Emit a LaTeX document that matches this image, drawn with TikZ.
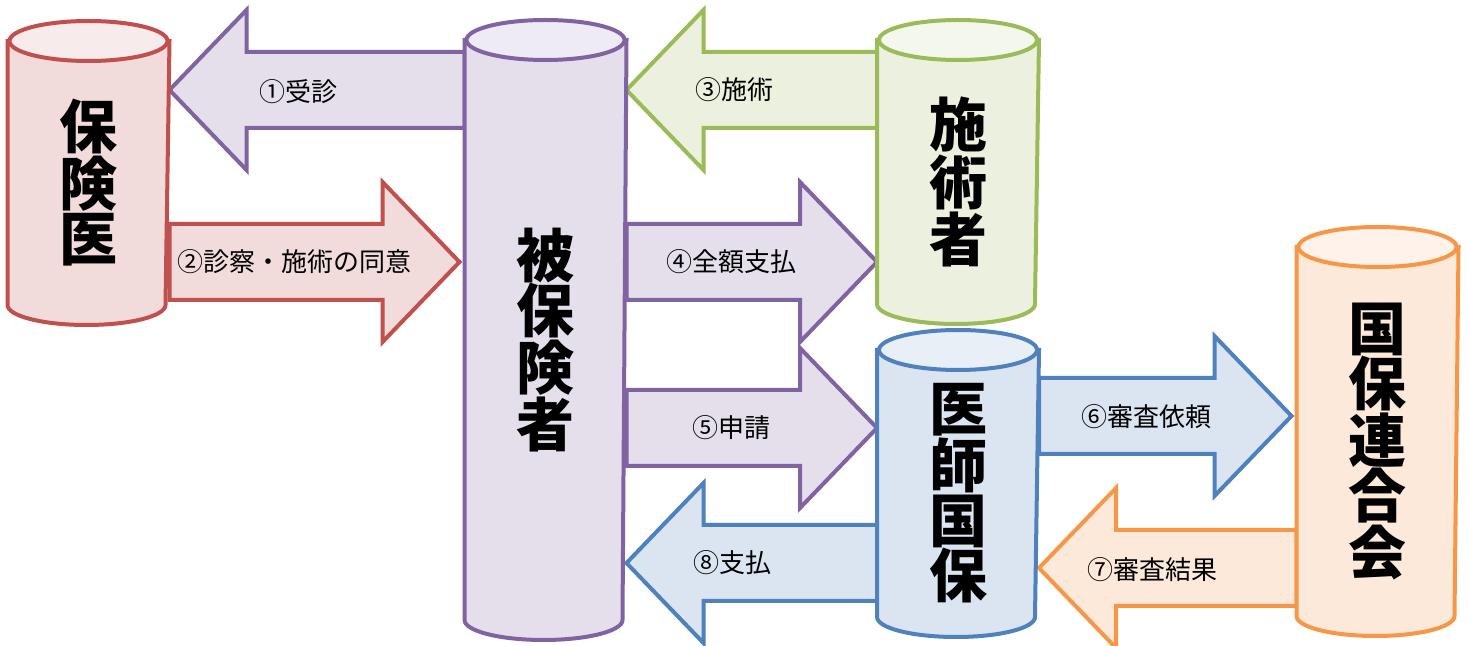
\documentclass[tikz,border=0pt]{standalone}
\usepackage{fontspec}
\newfontfamily\jp{Noto Sans CJK JP}
\usetikzlibrary{calc}

\definecolor{lilacline}{HTML}{8064A2}
\definecolor{lilacfill}{HTML}{E5DFEC}
\definecolor{lilactop}{HTML}{EFEBF4}
\definecolor{roseline}{HTML}{C0504D}
\definecolor{rosefill}{HTML}{F2DCDB}
\definecolor{rosetop}{HTML}{F8EBEB}
\definecolor{leafline}{HTML}{9BBB59}
\definecolor{leaffill}{HTML}{EBF1DE}
\definecolor{leaftop}{HTML}{F3F7EC}
\definecolor{skyline}{HTML}{4F81BD}
\definecolor{skyfill}{HTML}{DBE5F1}
\definecolor{skytop}{HTML}{E8EFF7}
\definecolor{peachline}{HTML}{F79646}
\definecolor{peachfill}{HTML}{FDE9D9}
\definecolor{peachtop}{HTML}{FEF2EA}

\pgfdeclarelayer{flows}
\pgfdeclarelayer{drums}
\pgfsetlayers{flows,drums,main}

\newcommand{\drum}[4]{%
  \draw [line width = 2pt, draw = #2, fill = #3] (#1.north west) -- ([yshift = 10pt]#1.south west)
    arc [start angle = 180, end angle = 360, x radius = 39.5pt, y radius = 10pt]
    -- (#1.north east) -- cycle;
  \draw [line width = 2pt, draw = #2, fill = #4] (#1.north) ellipse [x radius = 39.5pt, y radius = 10pt];
}

\newcommand{\flow}[4]{%
  \draw [line width = 2pt, draw = #1, fill = #2] let \p1 = #3, \p2 = #4, \n1 = {sign(\x2 - \x1)} in
    (\x1, \y2 + 19pt) -- (\x2 - \n1*38.5pt, \y2 + 19pt) -- (\x2 - \n1*38.5pt, \y2 + 40pt)
    -- (\x2, \y2) -- (\x2 - \n1*38.5pt, \y2 - 40pt) -- (\x2 - \n1*38.5pt, \y2 - 19pt)
    -- (\x1, \y2 - 19pt) -- cycle;
}

\begin{document}
\begin{tikzpicture}[
    x = 0.5pt, y = -0.5pt,
    line width = 2pt,
    drum/.style = {rectangle,
      inner sep = 0pt,
      minimum width = 79pt,
      align = center,
      font = \jp\bfseries\fontsize{29pt}{27.5pt}\selectfont},
    flowlabel/.style = {inner sep = 0pt,
      font = \jp\fontsize{13pt}{15pt}\selectfont}
    ]
    \useasboundingbox (0, 0) rectangle (1468, 646);

    \node at (88.5, 183) [drum, minimum height = 140pt, name = HI] {保\\険\\医};
    \node at (545.5, 340) [drum, minimum height = 298pt, name = HH] {被\\保\\険\\者};
    \node at (958, 182) [drum, minimum height = 140pt, name = SJ] {施\\術\\者};
    \node at (958, 493.5) [drum, minimum height = 141.5pt, name = IK] {医\\師\\国\\保};
    \node at (1377.5, 441.5) [drum, minimum height = 192.5pt, name = KR] {国\\保\\連\\合\\会};

    \begin{pgfonlayer}{drums}
      \drum{HI}{roseline}{rosefill}{rosetop}
      \drum{HH}{lilacline}{lilacfill}{lilactop}
      \drum{SJ}{leafline}{leaffill}{leaftop}
      \drum{IK}{skyline}{skyfill}{skytop}
      \drum{KR}{peachline}{peachfill}{peachtop}
    \end{pgfonlayer}

    \begin{pgfonlayer}{flows}
      \flow{lilacline}{lilacfill}{(HH.west |- 0, 90)}{(HI.east |- 0, 90)}
      \flow{roseline}{rosefill}{(HI.east |- 0, 262)}{($(HH.west |- 0, 262) + (-5, 0)$)}
      \flow{leafline}{leaffill}{(SJ.west |- 0, 90)}{(HH.east |- 0, 90)}
      \flow{lilacline}{lilacfill}{(HH.east |- 0, 262)}{(SJ.west |- 0, 262)}
      \flow{lilacline}{lilacfill}{(HH.east |- 0, 428)}{(IK.west |- 0, 428)}
      \flow{skyline}{skyfill}{(IK.west |- 0, 563)}{(HH.east |- 0, 563)}
      \flow{skyline}{skyfill}{(IK.east |- 0, 416)}{($(KR.west |- 0, 416) + (-5, 0)$)}
      \flow{peachline}{peachfill}{(KR.west |- 0, 568)}{(IK.east |- 0, 568)}
    \end{pgfonlayer}

    \node at (298, 92) [flowlabel, name = f1] {①受診};
    \node at (294, 262) [flowlabel, name = f2] {②診察・施術の同意};
    \node at (734, 90) [flowlabel, name = f3] {③施術};
    \node at (731, 262) [flowlabel, name = f4] {④全額支払};
    \node at (731, 428) [flowlabel, name = f5] {⑤申請};
    \node at (1146, 417) [flowlabel, name = f6] {⑥審査依頼};
    \node at (1152, 570) [flowlabel, name = f7] {⑦審査結果};
    \node at (732, 563) [flowlabel, name = f8] {⑧支払};

  \end{tikzpicture}
\end{document}
